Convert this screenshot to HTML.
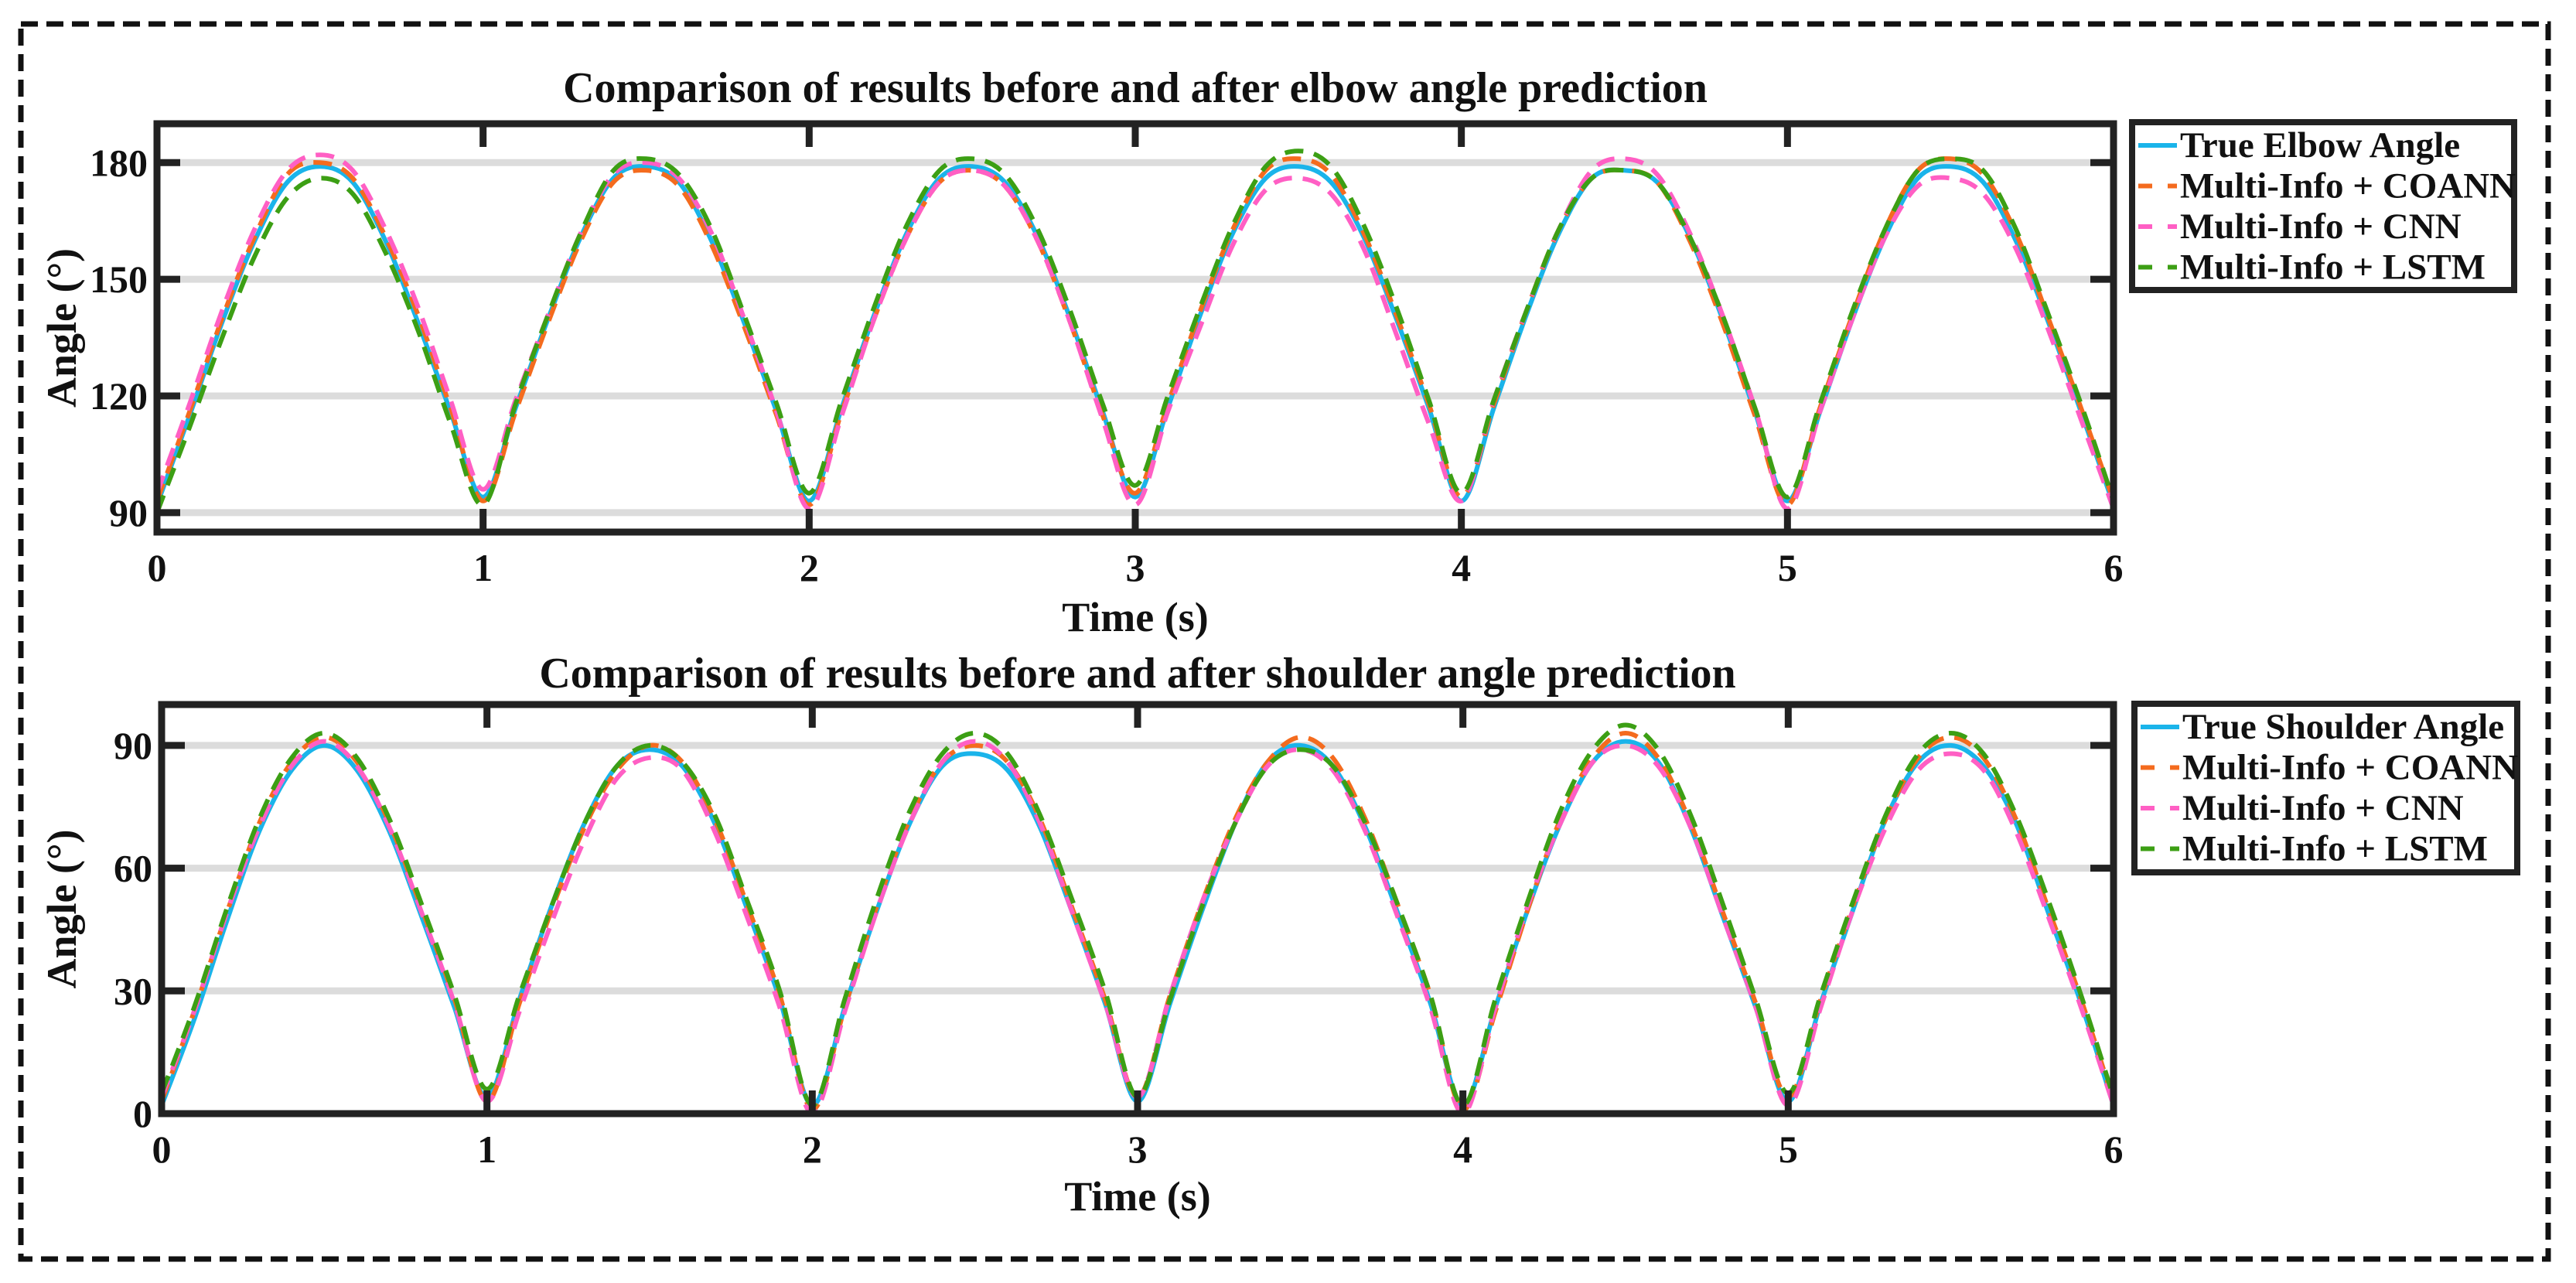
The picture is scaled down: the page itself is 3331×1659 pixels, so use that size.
<!DOCTYPE html>
<html><head><meta charset="utf-8">
<style>
html,body{margin:0;padding:0;background:#fff;}
svg{display:block;}
text{font-family:"Liberation Serif",serif;font-weight:bold;fill:#111;}
</style></head>
<body>
<svg id="fig" width="3331" height="1659" viewBox="0 0 3331 1659" xmlns="http://www.w3.org/2000/svg">
<rect x="27" y="31" width="3268" height="1597" fill="none" stroke="#111" stroke-width="7" stroke-dasharray="22,11"/>
</svg>
<script>
// ---- data (sampled every 0.1 s) ----
const timeTicks = [0,1,2,3,4,5,6];
const elbowTicks = [90,120,150,180];
const shoulderTicks = [0,30,60,90];
const seriesNames = ["True Elbow Angle","Multi-Info + COANN","Multi-Info + CNN","Multi-Info + LSTM"];
const seriesNames2 = ["True Shoulder Angle","Multi-Info + COANN","Multi-Info + CNN","Multi-Info + LSTM"];

const elbowTrue = [92,115,139,160,175,179,175,160,139,116,
 94,117,140,161,176,179,175,160,139,116,
 93,117,141,162,176,179,175,161,140,116,
 94,117,141,162,176,179,175,161,140,117,
 93,117,141,162,176,178,175,161,140,116,
 93,116,140,161,176,179,175,160,139,116, 92];
const elbowCoann = [93,116,140,161,177,180,176,161,141,117,
 93,116,139,160,175,178,174,159,138,115,
 92,116,140,161,175,178,174,160,139,115,
 95,118,142,163,178,181,177,162,141,118,
 94,118,142,163,176,178,175,160,139,115,
 92,117,141,163,178,181,177,162,140,117, 93];
const elbowCnn = [95,118,142,163,178,182,178,163,143,119,
 96,119,141,162,177,180,176,162,140,116,
 91,115,140,161,175,178,174,160,139,114,
 92,116,138,159,173,176,172,158,136,113,
 93,119,142,163,178,181,177,162,141,117,
 91,116,140,161,174,176,172,158,137,114, 91];
const elbowLstm = [90,112,135,156,171,176,172,157,137,113,
 92,118,141,162,178,181,177,163,141,118,
 95,119,143,164,178,181,177,163,142,118,
 97,120,143,164,179,183,179,164,143,119,
 95,119,142,163,176,178,175,161,141,117,
 94,118,142,163,178,181,178,163,141,118, 93];

const shoulderTrue = [2,23,47,69,84,90,84,69,48,26,
 4,28,51,71,85,89,85,71,50,28,
 2,26,50,71,85,88,84,70,49,27,
 3,27,50,71,86,90,85,70,49,27,
 2,26,50,71,86,91,86,70,48,26,
 3,27,50,72,86,90,85,71,49,27, 2];
const shoulderCoann = [3,25,49,71,86,92,86,71,50,28,
 3,27,50,70,84,90,86,72,51,29,
 1,26,51,72,86,90,86,72,50,28,
 4,29,52,72,86,92,87,72,51,29,
 1,25,50,72,87,93,87,71,49,27,
 4,28,51,72,87,92,87,72,50,28, 3];
const shoulderCnn = [4,25,49,70,85,91,85,70,49,27,
 3,25,47,67,82,87,84,69,48,26,
 0,25,50,71,86,91,86,71,49,27,
 4,29,52,71,85,89,84,69,48,26,
 0,26,51,71,86,90,85,70,48,26,
 2,26,50,70,84,88,84,69,48,26, 2];
const shoulderLstm = [5,26,50,72,87,93,87,72,51,29,
 6,29,51,71,85,90,86,73,52,30,
 2,28,53,74,88,93,88,73,52,30,
 4,28,51,71,85,89,85,71,51,29,
 2,28,52,74,89,95,89,73,51,28,
 5,29,52,73,88,93,88,73,52,29, 4];

const colors = ["#1ab4ea","#f46b1e","#ff5fc4","#3c9f14"];
const NS = "http://www.w3.org/2000/svg";
const svg = document.getElementById("fig");

function mk(tag, attrs, parent){
  const e = document.createElementNS(NS, tag);
  for (const k in attrs) e.setAttribute(k, attrs[k]);
  (parent||svg).appendChild(e);
  return e;
}

function smoothPath(pts){
  let d = "M"+pts[0][0].toFixed(1)+","+pts[0][1].toFixed(1);
  for (let i=0;i<pts.length-1;i++){
    const p0=pts[Math.max(0,i-1)], p1=pts[i], p2=pts[i+1], p3=pts[Math.min(pts.length-1,i+2)];
    const c1x=p1[0]+(p2[0]-p0[0])/6, c1y=p1[1]+(p2[1]-p0[1])/6;
    const c2x=p2[0]-(p3[0]-p1[0])/6, c2y=p2[1]-(p3[1]-p1[1])/6;
    d+=" C"+c1x.toFixed(1)+","+c1y.toFixed(1)+" "+c2x.toFixed(1)+","+c2y.toFixed(1)+" "+p2[0].toFixed(1)+","+p2[1].toFixed(1);
  }
  return d;
}

function panel(cfg){
  const {L,R,T,B,ymin,ymax,yTicks,series,names,title,titleY,tickLabelY,xlabelY,leg,id} = cfg;
  const xs = t => L + (t/6)*(R-L);
  const ys = v => B - (v-ymin)/(ymax-ymin)*(B-T);
  const g = mk("g",{});
  
  
  yTicks.forEach(v=>{
    const gl = mk("line",{x1:L,x2:R,y1:ys(v),y2:ys(v),stroke:"#dcdcdc","stroke-width":9},g);
    
    
  });
  const cp = mk("clipPath",{id:"clip-"+id},g);
  mk("rect",{x:L,y:T,width:R-L,height:B-T},cp);
  const lg = mk("g",{"clip-path":"url(#clip-"+id+")"},g);
  series.forEach((arr,si)=>{
    const pts = arr.map((v,i)=>[xs(i*0.1), ys(v)]);
    const p = mk("path",{d:smoothPath(pts),fill:"none",stroke:colors[si],"stroke-width":6,"stroke-linejoin":"round"},lg);
    if (si>0) p.setAttribute("stroke-dasharray","24,14");
    
    
  });
  const box = mk("rect",{x:L,y:T,width:R-L,height:B-T,fill:"none",stroke:"#222","stroke-width":9},g);
  
  
  timeTicks.forEach(t=>{
    mk("line",{x1:xs(t),x2:xs(t),y1:B,y2:B-30,stroke:"#222","stroke-width":9},g);
    mk("line",{x1:xs(t),x2:xs(t),y1:T,y2:T+30,stroke:"#222","stroke-width":9},g);
    const tx = mk("text",{x:xs(t),y:tickLabelY,"font-size":50,"text-anchor":"middle","dominant-baseline":"central"},g);
    tx.textContent = t;
    
    
  });
  yTicks.forEach(v=>{
    mk("line",{x1:L,x2:L+30,y1:ys(v),y2:ys(v),stroke:"#222","stroke-width":9},g);
    mk("line",{x1:R,x2:R-30,y1:ys(v),y2:ys(v),stroke:"#222","stroke-width":9},g);
    const tx = mk("text",{x:L-12,y:ys(v),"font-size":50,"text-anchor":"end","dominant-baseline":"central"},g);
    tx.textContent = v;
    
    
  });
  const xl = mk("text",{x:(L+R)/2,y:xlabelY,"font-size":54,"text-anchor":"middle","dominant-baseline":"central"},g);
  xl.textContent = "Time (s)";
  
  
  const yc = (T+B)/2;
  const yl = mk("text",{x:0,y:0,"font-size":54,"text-anchor":"middle","dominant-baseline":"central",transform:"translate(80,"+yc+") rotate(-90)"},g);
  yl.textContent = "Angle (°)";
  
  
  const tt = mk("text",{x:(L+R)/2,y:titleY,"font-size":56,"text-anchor":"middle","dominant-baseline":"central"},g);
  tt.textContent = title;
  
  
  const lb = mk("rect",{x:leg.x,y:leg.y,width:leg.w,height:leg.h,fill:"#fff",stroke:"#222","stroke-width":8},g);
  
  
  names.forEach((n,i)=>{
    const cy = leg.y + 30 + i*52.5;
    const ln = mk("line",{x1:leg.x+8,x2:leg.x+58,y1:cy,y2:cy,stroke:colors[i],"stroke-width":6},g);
    if (i>0) ln.setAttribute("stroke-dasharray","18,20");
    
    
    const tx = mk("text",{x:leg.x+62,y:cy,"font-size":47,"dominant-baseline":"central"},g);
    tx.textContent = n;
    
    
  });
}

panel({id:"elbow",L:203,R:2733,T:160,B:688,ymin:85,ymax:190,yTicks:elbowTicks,
  series:[elbowTrue,elbowCoann,elbowCnn,elbowLstm],names:seriesNames,
  title:"Comparison of results before and after elbow angle prediction",titleY:114,
  tickLabelY:734,xlabelY:798,leg:{x:2757,y:158,w:494,h:217}});
panel({id:"shoulder",L:209,R:2733,T:911,B:1440,ymin:0,ymax:100,yTicks:shoulderTicks,
  series:[shoulderTrue,shoulderCoann,shoulderCnn,shoulderLstm],names:seriesNames2,
  title:"Comparison of results before and after shoulder angle prediction",titleY:871,
  tickLabelY:1486,xlabelY:1547,leg:{x:2760,y:910,w:495,h:218}});
</script>
</body></html>
